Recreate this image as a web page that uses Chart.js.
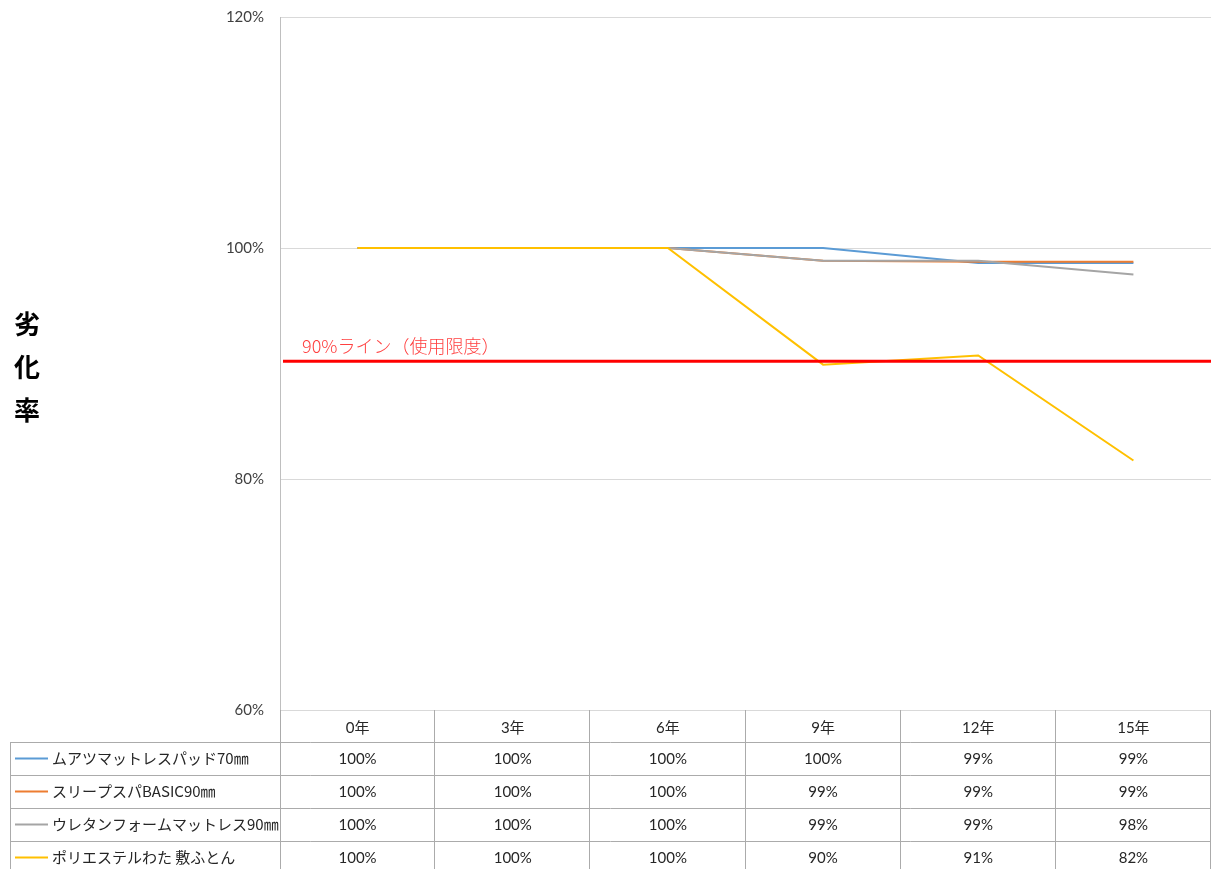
<!DOCTYPE html>
<html>
<head>
  <meta charset="utf-8">
  <title>劣化率</title>
  <script src="https://cdn.jsdelivr.net/npm/chart.js"></script>
  <style>
    body { margin: 0; background: #fff; }
    #wrap { width: 1211px; height: 869px; position: relative; }
  </style>
</head>
<body>
  <div id="wrap"><canvas id="myChart"></canvas></div>

  <script>
    // data
    const categories = ['0年', '3年', '6年', '9年', '12年', '15年'];
    const seriesNames = ['ムアツマットレスパッド70㎜', 'スリープスパBASIC90㎜', 'ウレタンフォームマットレス90㎜', 'ポリエステルわた 敷ふとん'];
    const muatsu = [100, 100, 100, 100, 98.7, 98.7];
    const sleepspa = [100, 100, 100, 98.9, 98.8, 98.8];
    const urethane = [100, 100, 100, 98.9, 98.9, 97.7];
    const polyester = [100, 100, 100, 89.9, 90.7, 81.6];
    const yTicks = [60, 80, 100, 120];
    const limitValue = 90.2;
    const limitLabel = '90%ライン（使用限度）';
    const yTitle = '劣化率';

    const seriesValues = [muatsu, sleepspa, urethane, polyester];
    const colors = ['#5B9BD5', '#ED7D31', '#A5A5A5', '#FFC000'];
    const numFont = 'Lato, "Noto Sans CJK JP", sans-serif';
    const jpFont = '"Noto Sans CJK JP", sans-serif';

    const tablePlugin = {
      id: 'tablePlugin',
      afterDatasetsDraw(chart) {
        const { ctx, chartArea, scales } = chart;
        const y = scales.y;
        ctx.save();
        // 90% line
        const ly = y.getPixelForValue(limitValue);
        ctx.strokeStyle = '#FF0000';
        ctx.lineWidth = 3;
        ctx.beginPath();
        ctx.moveTo(chartArea.left + 3, ly);
        ctx.lineTo(chartArea.right, ly);
        ctx.stroke();
        ctx.fillStyle = '#FF4040';
        ctx.font = '300 18px ' + jpFont;
        ctx.textAlign = 'left';
        ctx.textBaseline = 'alphabetic';
        ctx.fillText(limitLabel, chartArea.left + 22, ly - 8);
        ctx.restore();
      },
      afterDraw(chart) {
        const { ctx, chartArea, scales } = chart;
        const x = scales.x;
        const left = chartArea.left, right = chartArea.right, bottom = chartArea.bottom;
        const headerH = 32, rowH = 33;
        const tableLeft = 10;
        const colW = (right - left) / categories.length;
        ctx.save();

        // y title, stacked characters
        ctx.fillStyle = '#000';
        ctx.font = 'bold 26px ' + jpFont;
        ctx.textAlign = 'center';
        ctx.textBaseline = 'middle';
        [...yTitle].forEach((ch, i) => ctx.fillText(ch, 27, 324 + i * 43));

        // table grid
        ctx.strokeStyle = '#ABABAB';
        ctx.lineWidth = 1;
        ctx.beginPath();
        const rowTop = bottom + headerH;
        for (let i = 0; i <= seriesNames.length; i++) {
          const yy = Math.round(rowTop + i * rowH) + 0.5;
          ctx.moveTo(tableLeft, yy);
          ctx.lineTo(right, yy);
        }
        for (let c = 1; c <= categories.length; c++) {
          const xx = Math.round(left + c * colW) - 0.5;
          ctx.moveTo(xx, bottom);
          ctx.lineTo(xx, chart.height);
        }
        ctx.moveTo(tableLeft + 0.5, rowTop);
        ctx.lineTo(tableLeft + 0.5, chart.height);
        ctx.moveTo(left + 0.5, bottom);
        ctx.lineTo(left + 0.5, chart.height);
        ctx.stroke();

        // rows
        seriesNames.forEach((name, i) => {
          const cy = rowTop + i * rowH + rowH / 2;
          ctx.strokeStyle = colors[i];
          ctx.lineWidth = 2;
          ctx.beginPath();
          ctx.moveTo(15, cy);
          ctx.lineTo(48, cy);
          ctx.stroke();
          ctx.fillStyle = '#262626';
          ctx.font = '15px ' + jpFont;
          ctx.textAlign = 'left';
          ctx.textBaseline = 'middle';
          ctx.fillText(name, 52, cy);
          ctx.font = '15px ' + numFont;
          ctx.textAlign = 'center';
          seriesValues[i].forEach((v, j) => {
            ctx.fillText(Math.round(v) + '%', x.getPixelForValue(j), cy + 1);
          });
        });
        ctx.restore();
      }
    };

    document.addEventListener('DOMContentLoaded', () => {
      const ctx = document.getElementById('myChart').getContext('2d');
      new Chart(ctx, {
        type: 'line',
        data: {
          labels: categories,
          datasets: seriesNames.map((name, i) => ({
            label: name,
            data: seriesValues[i],
            borderColor: colors[i],
            backgroundColor: colors[i],
            borderWidth: 2,
            pointRadius: 0,
            tension: 0,
            order: seriesNames.length - i
          }))
        },
        options: {
          responsive: true,
          maintainAspectRatio: false,
          animation: false,
          layout: { padding: { top: 17, right: 0, left: 0, bottom: 0 } },
          plugins: {
            legend: { display: false },
            tooltip: { enabled: false }
          },
          scales: {
            x: {
              offset: true,
              grid: { display: false, drawTicks: false },
              border: { display: false },
              ticks: {
                color: '#262626',
                font: { family: numFont, size: 15 },
                padding: 9
              },
              afterFit(scale) { scale.height = 159; }
            },
            y: {
              min: 60,
              max: 120,
              afterBuildTicks(scale) { scale.ticks = yTicks.map(v => ({ value: v })); },
              grid: { color: '#D9D9D9', drawTicks: true, tickLength: 16, tickColor: 'rgba(0,0,0,0)' },
              border: { display: true, color: '#BFBFBF' },
              ticks: {
                color: '#404040',
                font: { family: numFont, size: 15 },
                padding: 0,
                callback: v => v + '%'
              },
              afterFit(scale) { scale.width = 280; }
            }
          }
        },
        plugins: [tablePlugin]
      });
    });
  </script>
</body>
</html>
